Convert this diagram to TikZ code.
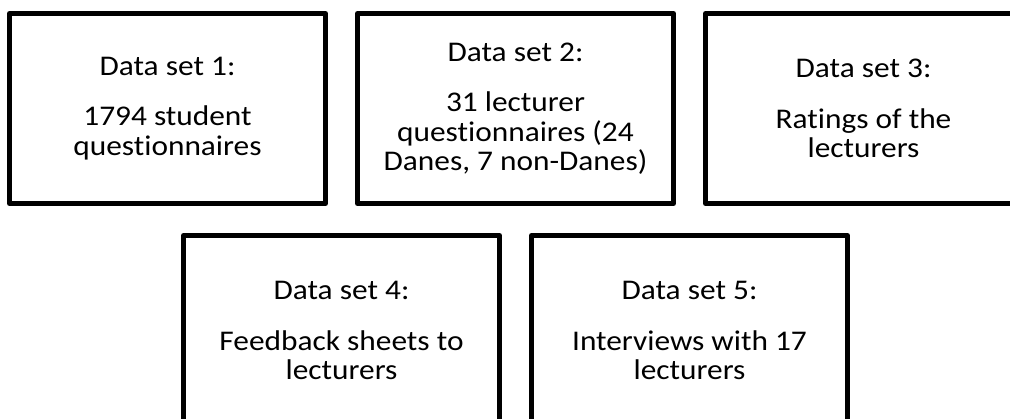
\documentclass[tikz,border=0pt]{standalone}
\usepackage{fontspec}
\setmainfont{Carlito}[FakeStretch=1.10,Ligatures=NoCommon]
\usetikzlibrary{positioning,calc}
\tikzset{databox/.style={draw,line width=5pt,line join=round,minimum width=316pt,minimum height=190pt,
                         inner sep=0pt,align=center,font=\fontsize{28.5}{29.5}\selectfont}}
\newcommand{\dset}[1]{Data set #1:\\[21pt]}

\begin{document}
\begin{tikzpicture}[x=1pt,y=-1pt]
            \useasboundingbox (0,0) rectangle (1010,419);

            % Top row
            \node[databox] (d1) at (167.5,108.5) {\dset{1}1794 student\\questionnaires};
            \node[databox,right=27pt of d1] (d2) {\dset{2}31 lecturer\\questionnaires (24\\Danes, 7 non-Danes)};
            \node[databox,right=27pt of d2] (d3) {\dset{3}Ratings of the\\lecturers};

            % Bottom row
            \node[databox,anchor=north] (d4) at ($(d1.south)!0.5!(d2.south)+(0,-27pt)$) {\dset{4}Feedback sheets to\\lecturers};
            \node[databox,right=27pt of d4] (d5) {\dset{5}Interviews with 17\\lecturers};
\end{tikzpicture}
\end{document}
